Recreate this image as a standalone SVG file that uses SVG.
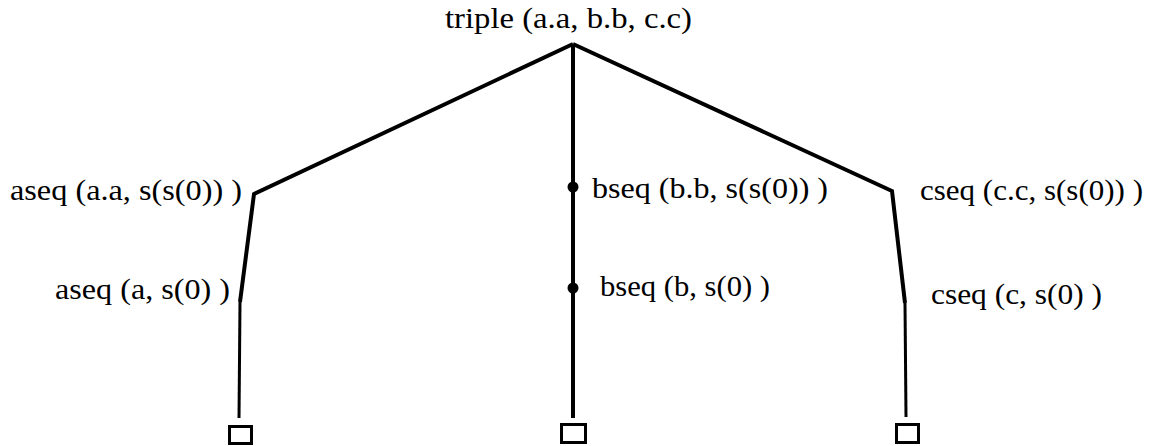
<svg xmlns="http://www.w3.org/2000/svg" width="1159" height="446" viewBox="0 0 1159 446">
<style>
.t{font-family:"Liberation Serif","Times New Roman",serif;font-size:30px;fill:#000}
.e{fill:none;stroke:#000;stroke-linejoin:miter;stroke-linecap:butt}
.leaf{fill:#fff;stroke:#000;stroke-width:3}
.dot{fill:#000}
</style>
<rect width="1159" height="446" fill="#fff"/>
<g id="connectors">
<polyline class="e" stroke-width="4" points="573,418 573,44"/>
<polyline class="e" stroke-width="4" points="573,44 254,194 240,302"/>
<polyline class="e" stroke-width="3" points="240,302 239,418"/>
<polyline class="e" stroke-width="4" points="573,44 892,191 905,303"/>
<polyline class="e" stroke-width="3" points="905,303 906,417"/>
</g>
<g id="triple"><text class="t" x="445" y="28" textLength="247" lengthAdjust="spacingAndGlyphs">triple (a.a, b.b, c.c)</text></g>
<g id="aseq1"><text class="t" x="10" y="200" textLength="232" lengthAdjust="spacingAndGlyphs">aseq (a.a, s(s(0)) )</text></g>
<g id="aseq2"><text class="t" x="55" y="299" textLength="175" lengthAdjust="spacingAndGlyphs">aseq (a, s(0) )</text></g>
<g id="bseq1"><circle class="dot" cx="573" cy="187" r="5.5"/><text class="t" x="592" y="198" textLength="236" lengthAdjust="spacingAndGlyphs">bseq (b.b, s(s(0)) )</text></g>
<g id="bseq2"><circle class="dot" cx="573" cy="288" r="5.5"/><text class="t" x="600" y="296" textLength="170" lengthAdjust="spacingAndGlyphs">bseq (b, s(0) )</text></g>
<g id="cseq1"><text class="t" x="920" y="200" textLength="223" lengthAdjust="spacingAndGlyphs">cseq (c.c, s(s(0)) )</text></g>
<g id="cseq2"><text class="t" x="931" y="304" textLength="171" lengthAdjust="spacingAndGlyphs">cseq (c, s(0) )</text></g>
<g id="leafA"><rect class="leaf" x="229.5" y="426.5" width="22" height="17"/></g>
<g id="leafB"><rect class="leaf" x="561.5" y="424.5" width="24" height="18"/></g>
<g id="leafC"><rect class="leaf" x="896.5" y="424.5" width="22" height="18"/></g>
</svg>
